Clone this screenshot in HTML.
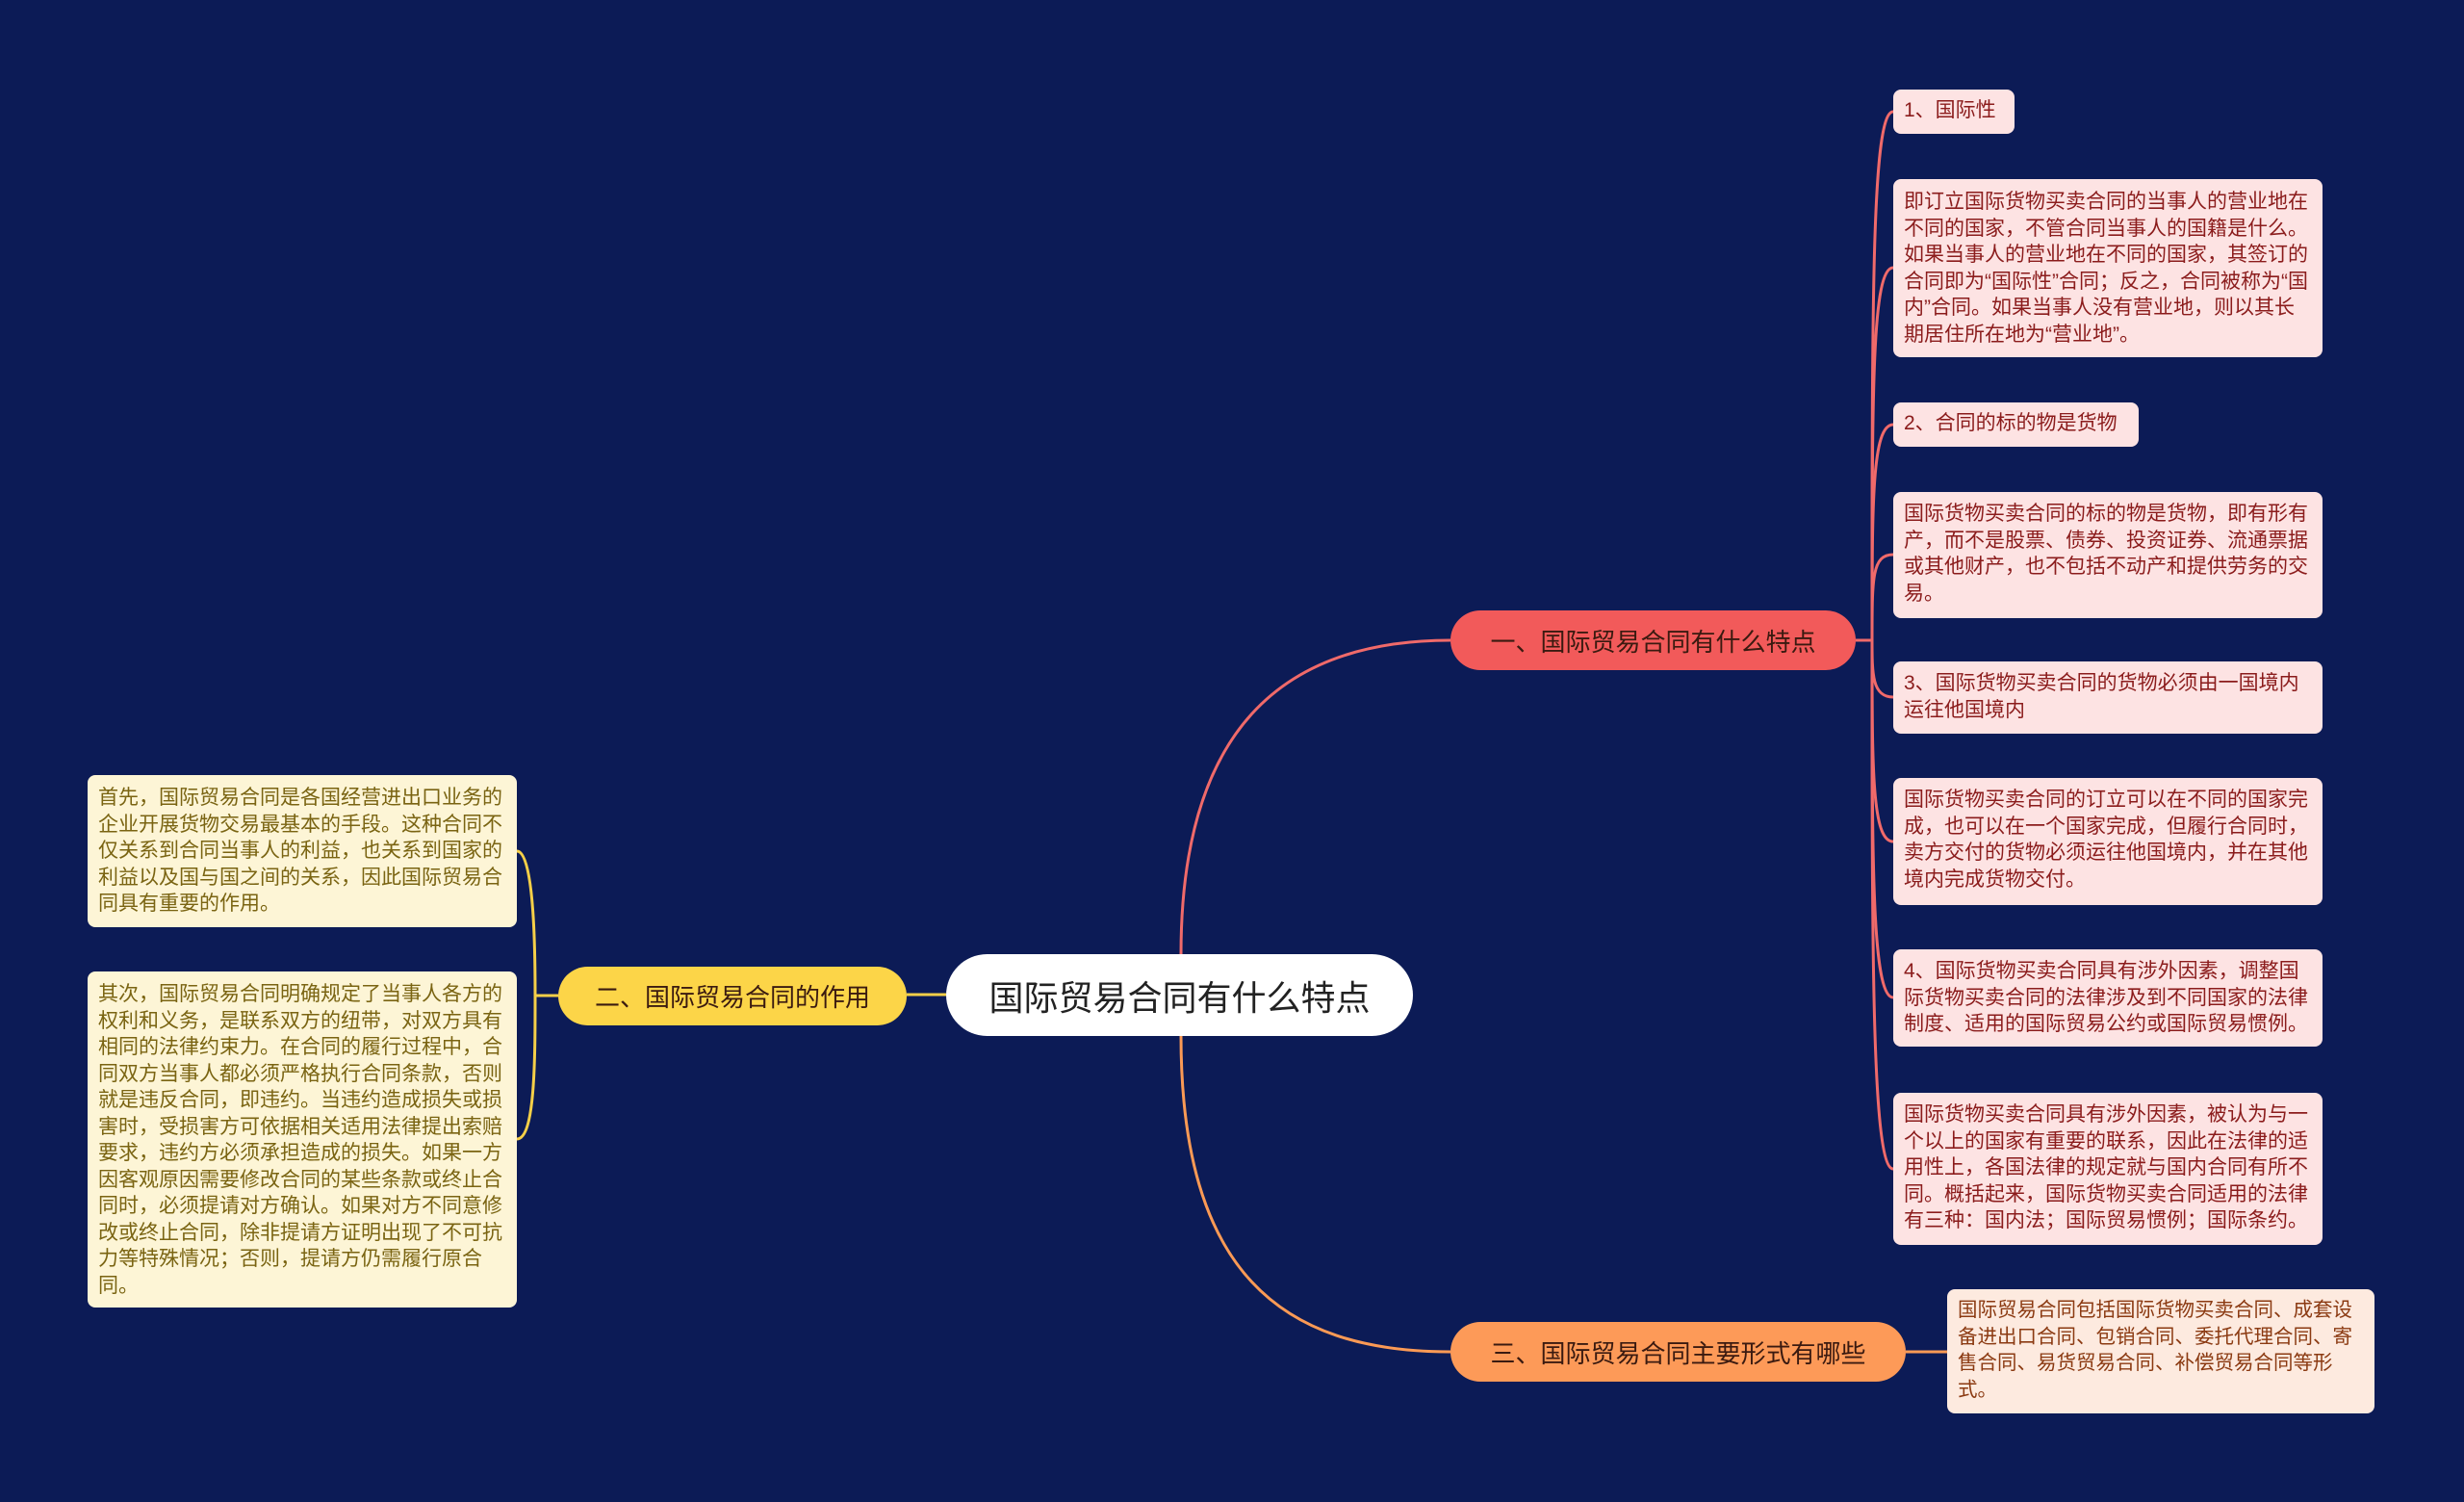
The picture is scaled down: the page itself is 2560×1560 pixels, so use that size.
<!DOCTYPE html>
<html><head><meta charset="utf-8"><style>
body{margin:0;width:2560px;height:1560px;background:#0c1b56;position:relative;overflow:hidden;font-family:"Liberation Sans","Noto Sans CJK SC",sans-serif}
.n{position:absolute;box-sizing:border-box}
.c{left:983px;top:991px;width:485px;height:85px;background:#fff;border-radius:43px;font-size:36px;color:#222;display:flex;align-items:center;justify-content:center}
.b{border-radius:31px;font-size:26px;display:flex;align-items:center;justify-content:center;color:#3a1a10}
.l{background:#fde3e3;color:#8b1c1c;border-radius:8px;font-size:21px;line-height:27.5px;padding:9px 13px 0 11px}
.y{background:#fdf5d6;color:#7a6412;border-radius:8px;font-size:21px;line-height:27.5px;padding:10px 13px 0 11px}
.o{background:#fdeadf;color:#8b3a12;border-radius:8px;font-size:20.5px;line-height:27.5px;padding:8px 4px 0 11px}
</style></head><body>
<svg width="2560" height="1560" style="position:absolute;left:0;top:0" fill="none">
<path d="M1227 991 C1227 760 1330 665 1507 665" stroke="#f06a6a" stroke-width="3"/>
<path d="M1227 1076 C1227 1320 1330 1404 1507 1404" stroke="#fb9a55" stroke-width="3"/>
<path d="M983 1033 H942" stroke="#f5cf48" stroke-width="3"/>
<path d="M1928 665 H1945" stroke="#f06a6a" stroke-width="3"/>
<g stroke="#f06a6a" stroke-width="3">
<path d="M1945 665 C1945 300 1945 116 1967 116"/>
<path d="M1945 665 C1945 400 1945 278 1967 278"/>
<path d="M1945 665 C1945 520 1945 441 1967 441"/>
<path d="M1945 665 C1945 600 1945 576 1967 576"/>
<path d="M1945 665 C1945 700 1945 724 1967 724"/>
<path d="M1945 665 C1945 800 1945 874 1967 874"/>
<path d="M1945 665 C1945 900 1945 1036 1967 1036"/>
<path d="M1945 665 C1945 1000 1945 1214 1967 1214"/>
</g>
<path d="M1980 1404 H2023" stroke="#fb9a55" stroke-width="3"/>
<g stroke="#f5cf48" stroke-width="3">
<path d="M580 1034 H556 C556 1000 556 884 537 884"/>
<path d="M556 1034 C556 1100 556 1183 537 1183"/>
</g>
</svg>
<div class="n c">国际贸易合同有什么特点</div>
<div class="n b" style="left:1507px;top:634px;width:421px;height:62px;background:#f25a5a">一、国际贸易合同有什么特点</div>
<div class="n b" style="left:580px;top:1004px;width:362px;height:61px;background:#fcd548">二、国际贸易合同的作用</div>
<div class="n b" style="left:1507px;top:1373px;width:473px;height:62px;background:#fd9a58">三、国际贸易合同主要形式有哪些</div>
<div class="n l" style="left:1967px;top:93px;width:126px;height:46px;padding-top:8px">1、国际性</div>
<div class="n l" style="left:1967px;top:186px;width:446px;height:185px;padding-top:10px">即订立国际货物买卖合同的当事人的营业地在不同的国家，不管合同当事人的国籍是什么。如果当事人的营业地在不同的国家，其签订的合同即为“国际性”合同；反之，合同被称为“国内”合同。如果当事人没有营业地，则以其长期居住所在地为“营业地”。</div>
<div class="n l" style="left:1967px;top:418px;width:255px;height:46px;padding-top:8px">2、合同的标的物是货物</div>
<div class="n l" style="left:1967px;top:511px;width:446px;height:131px">国际货物买卖合同的标的物是货物，即有形有产，而不是股票、债券、投资证券、流通票据或其他财产，也不包括不动产和提供劳务的交易。</div>
<div class="n l" style="left:1967px;top:687px;width:446px;height:75px">3、国际货物买卖合同的货物必须由一国境内运往他国境内</div>
<div class="n l" style="left:1967px;top:808px;width:446px;height:132px">国际货物买卖合同的订立可以在不同的国家完成，也可以在一个国家完成，但履行合同时，卖方交付的货物必须运往他国境内，并在其他境内完成货物交付。</div>
<div class="n l" style="left:1967px;top:986px;width:446px;height:101px">4、国际货物买卖合同具有涉外因素，调整国际货物买卖合同的法律涉及到不同国家的法律制度、适用的国际贸易公约或国际贸易惯例。</div>
<div class="n l" style="left:1967px;top:1135px;width:446px;height:158px">国际货物买卖合同具有涉外因素，被认为与一个以上的国家有重要的联系，因此在法律的适用性上，各国法律的规定就与国内合同有所不同。概括起来，国际货物买卖合同适用的法律有三种：国内法；国际贸易惯例；国际条约。</div>
<div class="n o" style="left:2023px;top:1339px;width:444px;height:129px">国际贸易合同包括国际货物买卖合同、成套设备进出口合同、包销合同、委托代理合同、寄售合同、易货贸易合同、补偿贸易合同等形式。</div>
<div class="n y" style="left:91px;top:805px;width:446px;height:158px">首先，国际贸易合同是各国经营进出口业务的企业开展货物交易最基本的手段。这种合同不仅关系到合同当事人的利益，也关系到国家的利益以及国与国之间的关系，因此国际贸易合同具有重要的作用。</div>
<div class="n y" style="left:91px;top:1009px;width:446px;height:349px">其次，国际贸易合同明确规定了当事人各方的权利和义务，是联系双方的纽带，对双方具有相同的法律约束力。在合同的履行过程中，合同双方当事人都必须严格执行合同条款，否则就是违反合同，即违约。当违约造成损失或损害时，受损害方可依据相关适用法律提出索赔要求，违约方必须承担造成的损失。如果一方因客观原因需要修改合同的某些条款或终止合同时，必须提请对方确认。如果对方不同意修改或终止合同，除非提请方证明出现了不可抗力等特殊情况；否则，提请方仍需履行原合同。</div>
</body></html>
